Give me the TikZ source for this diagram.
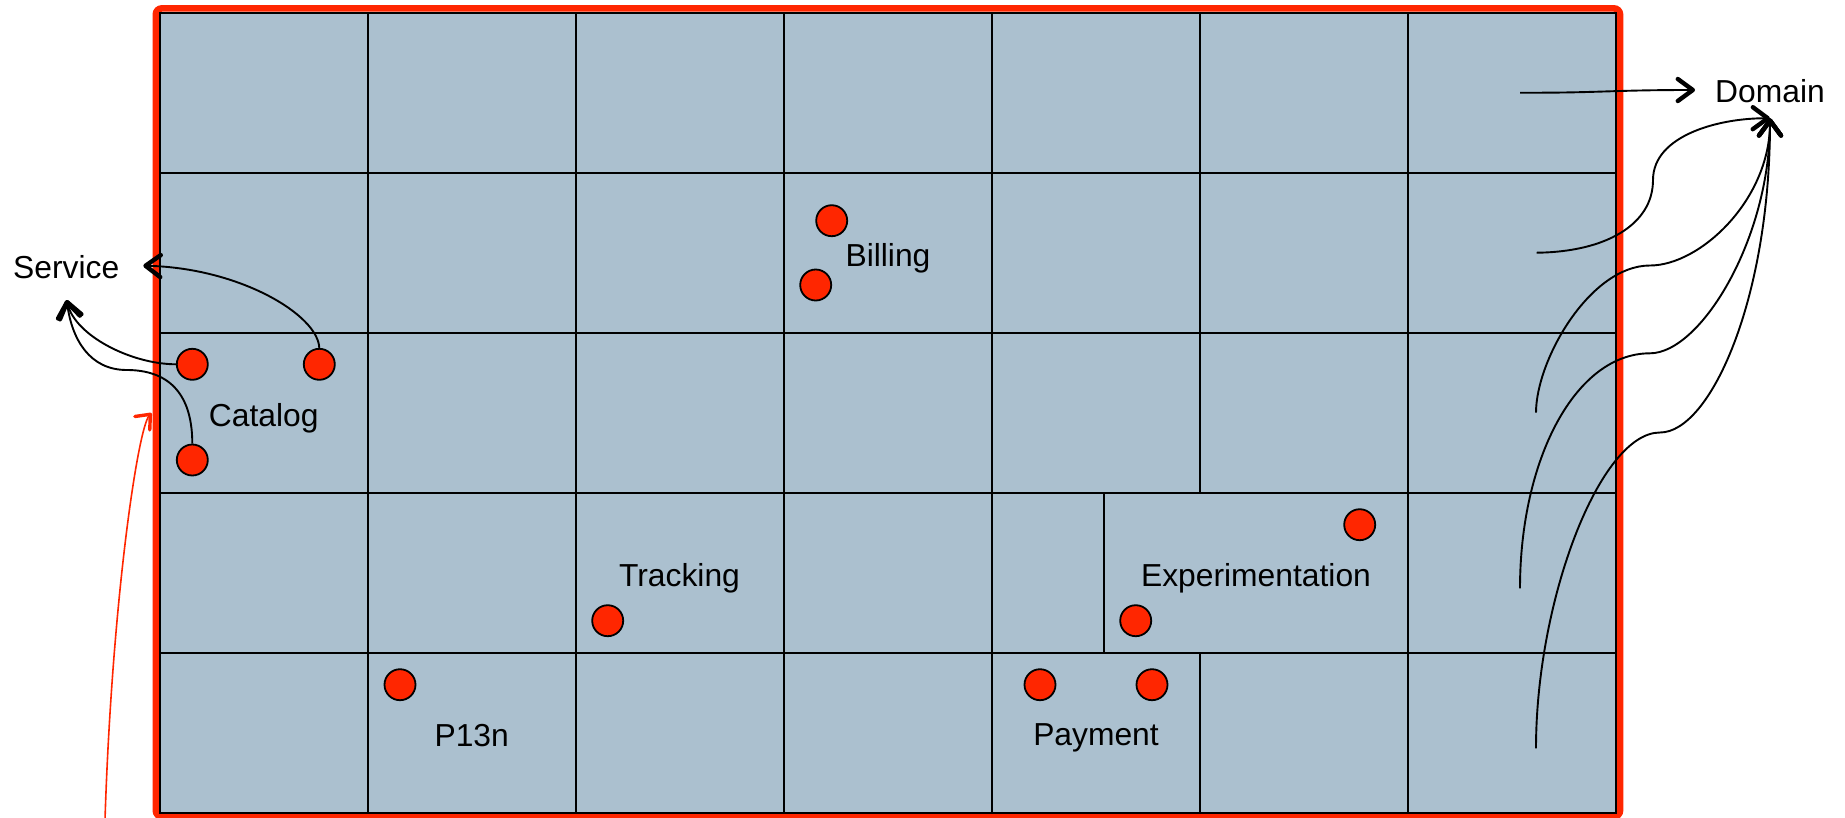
\documentclass[tikz,border=0pt]{standalone}
\usepackage{fontspec}
\setmainfont{Liberation Sans}
\usetikzlibrary{arrows.meta}
\definecolor{cellfill}{RGB}{171,192,207}
\definecolor{kred}{RGB}{255,38,0}
\begin{document}
\begin{tikzpicture}[x=1pt,y=-1pt,
  dot/.style={circle, fill=kred, draw=black, line width=1.8pt, minimum size=31pt, inner sep=0pt},
  lbl/.style={anchor=base, inner sep=0pt, font=\fontsize{31.8}{36}\selectfont},
  conn/.style={line width=1.9pt, -{Straight Barb[length=15pt,width=22pt,line width=4.4pt,round]}},
  gline/.style={line width=2.1pt, black},
  redarrow/.style={kred, line width=1.6pt, -{Straight Barb[length=12pt,width=20pt,line width=3.4pt,round]}},
]
\useasboundingbox (0,0) rectangle (1845,817);

% grid background
\fill[cellfill] (159.8,12.7) rectangle (1615.7,812.7);

% red pointer arrow (under the frame)
\coordinate (redS) at (105,820);
\coordinate (redT) at (151.5,413);
\draw[redarrow] (redS) .. controls (112,600) and (138,428) .. (redT);

% red frame
\draw[kred, line width=6.6pt, rounded corners=6pt] (155.8,8.4) rectangle (1620,816.6);

% grid lines
\foreach \y in {172.7,332.7,492.7,652.7}
  \draw[gline] (159.8,\y) -- (1615.7,\y);
\foreach \x in {367.8,575.8,783.8,991.7,1199.7,1407.7}
  \draw[gline] (\x,12.7) -- (\x,492.7);
\foreach \x in {367.8,575.8,783.8,991.7,1104.2,1407.7}
  \draw[gline] (\x,492.7) -- (\x,652.7);
\foreach \x in {367.8,575.8,783.8,991.7,1199.7,1407.7}
  \draw[gline] (\x,652.7) -- (\x,812.7);
\draw[gline] (159.8,12.7) rectangle (1615.7,812.7);

% labels
\node[lbl] (service) at (66.2,278.3) {Service};
\node[lbl] (catalog) at (263.7,426) {Catalog};
\node[lbl] (billing) at (888,266) {Billing};
\node[lbl] (tracking) at (679.5,586) {Tracking};
\node[lbl] (experimentation) at (1256,586) {Experimentation};
\node[lbl] (p13n) at (471.7,746) {P13n};
\node[lbl] (payment) at (1096,745) {Payment};
\node[lbl] (domain) at (1770,102.3) {Domain};

% dots
\node[dot] (cat1) at (192.3,364.3) {};
\node[dot] (cat2) at (319.3,364.3) {};
\node[dot] (cat3) at (192.3,460) {};
\node[dot] (bil1) at (831.7,220.7) {};
\node[dot] (bil2) at (815.7,285) {};
\node[dot] (trk) at (607.7,620.7) {};
\node[dot] (p13) at (400,684.7) {};
\node[dot] (exp1) at (1359.7,524.7) {};
\node[dot] (exp2) at (1135.7,620.7) {};
\node[dot] (pay1) at (1040,684.7) {};
\node[dot] (pay2) at (1152,684.7) {};

% free ends
\coordinate (svtipA) at (143.3,265.7);
\coordinate (svtipB) at (66.7,300);
\coordinate (dmtipA) at (1695,90);
\coordinate (dmtipB) at (1770,118.3);
\coordinate (d0s) at (1520,92.7);
\coordinate (d1s) at (1536.7,252.7);
\coordinate (d2s) at (1536,412.7);
\coordinate (d3s) at (1520,588.3);
\coordinate (d4s) at (1536,748.3);

% service connectors
\draw[conn] (cat2.north) .. controls (318,315) and (240,268) .. (svtipA);
\draw[conn] (cat1.west) .. controls (130,364) and (75,335) .. (svtipB);
\draw[conn] (cat3.north) .. controls (192.3,385) and (160,370) .. (126.7,370)
  .. controls (90,370) and (72,340) .. (svtipB);

% domain connectors
\draw[conn] (d0s) .. controls (1600,93) and (1610,90) .. (dmtipA);
\draw[conn] (d1s) .. controls (1605,252) and (1653,225) .. (1653,180)
  .. controls (1653,135) and (1720,118) .. (dmtipB);
\draw[conn] (d2s) .. controls (1536,360) and (1590,265.5) .. (1650,265.5)
  .. controls (1700,265.5) and (1770,200) .. (dmtipB);
\draw[conn] (d3s) .. controls (1520,460) and (1575,353.3) .. (1650,353.3)
  .. controls (1700,353.3) and (1770,240) .. (dmtipB);
\draw[conn] (d4s) .. controls (1536,600) and (1600,432.5) .. (1660,432.5)
  .. controls (1710,432.5) and (1770,300) .. (dmtipB);
\end{tikzpicture}
\end{document}
